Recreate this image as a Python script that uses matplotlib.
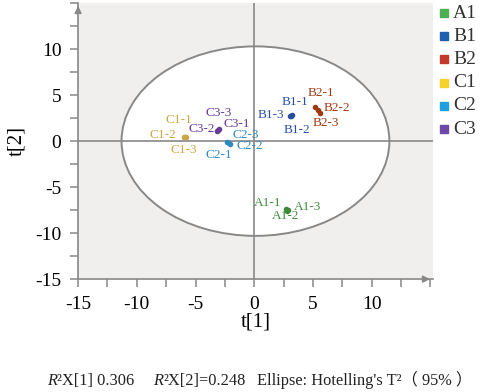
import matplotlib
matplotlib.use("Agg")
import matplotlib.pyplot as plt
from matplotlib.patches import Ellipse
from matplotlib.ticker import MultipleLocator, FuncFormatter

plt.rcParams['font.family'] = ['Liberation Serif', 'Noto Sans CJK SC']

# scores per group (t[1], t[2]), replicate 1..3
groups = ['A1', 'B1', 'B2', 'C1', 'C2', 'C3']
A1_t1 = [2.7, 2.8, 2.9]
A1_t2 = [-7.4, -7.6, -7.5]
B1_t1 = [3.2, 3.1, 3.0]
B1_t2 = [2.85, 2.7, 2.75]
B2_t1 = [5.2, 5.4, 5.6]
B2_t2 = [3.7, 3.4, 3.1]
C1_t1 = [-5.9, -5.95, -5.85]
C1_t2 = [0.5, 0.45, 0.4]
C2_t1 = [-2.3, -2.05, -2.15]
C2_t2 = [-0.1, -0.35, -0.2]
C3_t1 = [-3.0, -3.2, -3.1]
C3_t2 = [1.3, 1.1, 1.2]

# label offsets from each point (data units), replicate 1..3
label_dx = {
    'A1': [-1.6, -0.1, 1.6], 'B1': [0.3, 0.5, -1.55], 'B2': [0.5, 1.6, 0.5],
    'C1': [-0.5, -1.85, -0.15], 'C2': [-0.75, 1.7, 1.45], 'C3': [1.5, -1.3, 0.1],
}
label_dy = {
    'A1': [0.7, -0.55, 0.3], 'B1': [1.35, -1.5, 0.05], 'B2': [1.5, 0.2, -1.1],
    'C1': [1.8, 0.2, -1.4], 'C2': [-1.4, -0.2, 0.9], 'C3': [0.6, 0.2, 1.85],
}

pt_colors = {'A1': '#3f8a3a', 'B1': '#2a4f9e', 'B2': '#9e3a14',
             'C1': '#c9a646', 'C2': '#2f88bf', 'C3': '#6a3a98'}
leg_colors = {'A1': '#4caf50', 'B1': '#1f5fb0', 'B2': '#c0392b',
              'C1': '#f5d328', 'C2': '#1ea0e0', 'C3': '#6c48a8'}

data = {'A1': (A1_t1, A1_t2), 'B1': (B1_t1, B1_t2), 'B2': (B2_t1, B2_t2),
        'C1': (C1_t1, C1_t2), 'C2': (C2_t1, C2_t2), 'C3': (C3_t1, C3_t2)}

fig = plt.figure(figsize=(4.82, 3.92), dpi=100)
ax = fig.add_axes([0.162, 0.288, 0.736, 0.704])
ax.set_facecolor('#f0efee')
ax.set_xlim(-15, 15.2)
ax.set_ylim(-15, 15)

gray = '#888888'
ell = Ellipse((0.1, 0), 22.8, 20.6, facecolor='white', edgecolor=gray, lw=1.4, zorder=1)
ax.add_patch(ell)
ax.axhline(0, color=gray, lw=1.2, zorder=2)
ax.axvline(0, color=gray, lw=1.2, zorder=2)

for g in groups:
    xs, ys = data[g]
    ax.scatter(xs, ys, s=16, color=pt_colors[g], zorder=3, linewidths=0)
    for i in range(3):
        ax.text(xs[i] + label_dx[g][i], ys[i] + label_dy[g][i], f'{g}-{i + 1}',
                color=pt_colors[g], fontsize=9.5, ha='center', va='center', zorder=4)

for s in ['top', 'right']:
    ax.spines[s].set_visible(False)
for s in ['left', 'bottom']:
    ax.spines[s].set_color(gray)
    ax.spines[s].set_linewidth(1.2)

ax.annotate('', xy=(1.0, 0), xycoords='axes fraction', xytext=(0.97, 0),
            arrowprops=dict(arrowstyle='-|>', color=gray, lw=1.2, mutation_scale=10))
ax.annotate('', xy=(0, 1.0), xycoords='axes fraction', xytext=(0, 0.97),
            arrowprops=dict(arrowstyle='-|>', color=gray, lw=1.2, mutation_scale=10))

ax.xaxis.set_major_locator(MultipleLocator(5))
ax.yaxis.set_major_locator(MultipleLocator(5))
ax.xaxis.set_minor_locator(MultipleLocator(2.5))
ax.yaxis.set_minor_locator(MultipleLocator(2.5))
ax.xaxis.set_major_formatter(FuncFormatter(lambda v, p: '%d' % v if v < 15 else ''))
ax.yaxis.set_major_formatter(FuncFormatter(lambda v, p: '%d' % v if v < 15 else ''))
ax.tick_params(which='both', direction='out', length=6, width=1.1, color=gray,
               labelsize=14, pad=6)

ax.set_xlabel('t[1]', fontsize=15)
ax.set_ylabel('t[2]', fontsize=15)
ax.xaxis.set_label_coords(0.5, -0.12)
ax.yaxis.set_label_coords(-0.145, 0.5)

# legend as colored squares
for i, g in enumerate(groups):
    y = 1 - (13 + 23.2 * i) / 392
    fig.patches.append(plt.Rectangle((440 / 482, y - 4 / 392), 8 / 482, 8 / 392,
                                     transform=fig.transFigure, color=leg_colors[g]))
    fig.text(453 / 482, y, g, fontsize=14, va='center', ha='left', color='#333333')

# caption: three groups, each built from pieces (italic R)
caption = [
    (47, [('R', 'italic'), ("²X[1] 0.306", 'normal')]),
    (153, [('R', 'italic'), ("²X[2]=0.248", 'normal')]),
    (257, [("Ellipse: Hotelling's T²（ 95% ）", 'normal')]),
]
cap_kw = dict(fontsize=11.8, color='#222222', va='baseline', ha='left')
base_y = 1 - 385 / 392
renderer = fig.canvas.get_renderer()
for x0, parts in caption:
    for txt, st in parts:
        t = fig.text(x0 / 482, base_y, txt, style=st, **cap_kw)
        x0 = t.get_window_extent(renderer).x1

fig.savefig('out.png', dpi=100)
